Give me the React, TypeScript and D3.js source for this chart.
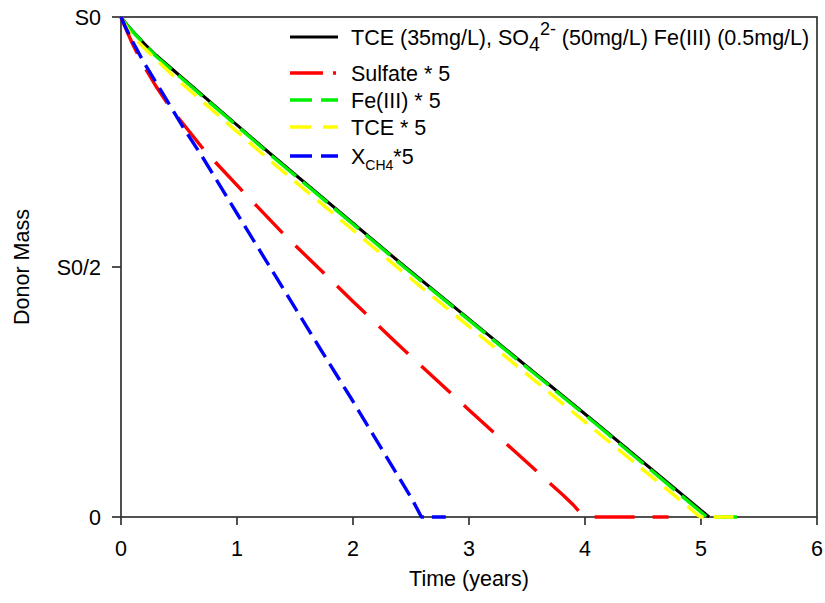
import React from "react";
import * as d3 from "d3";

const W = 825;
const H = 603;

const xTicks = [0, 1, 2, 3, 4, 5, 6];
const yTickValues = [0, 0.5, 1];
const yTickLabels = ["0", "S0/2", "S0"];

const blackT = [0, 0.05, 0.1, 0.2, 0.3, 0.51, 1.3, 2.43, 4.1, 5.07];
const blackV = [1, 0.985, 0.972, 0.947, 0.924, 0.882, 0.724, 0.504, 0.187, 0];

const greenT = [0, 0.05, 0.1, 0.2, 0.3, 0.51, 1.3, 2.43, 4.1, 5.05, 5.31];
const greenV = [1, 0.984, 0.971, 0.946, 0.922, 0.88, 0.722, 0.502, 0.185, 0, 0];

const yellowT = [0, 0.08, 0.3, 0.5, 1.3, 2.43, 4.1, 4.85, 4.92, 4.97, 5.0, 5.28];
const yellowV = [1, 0.966, 0.915, 0.872, 0.71, 0.49, 0.171, 0.028, 0.014, 0.004, 0, 0];

const redT = [0, 0.05, 0.1, 0.18, 0.3, 0.42, 0.72, 1.05, 1.41, 2.0, 2.38, 3.0, 3.81, 3.9, 3.96, 4.02, 4.72];
const redV = [1, 0.972, 0.946, 0.909, 0.862, 0.82, 0.733, 0.651, 0.564, 0.431, 0.347, 0.214, 0.044, 0.024, 0.008, 0, 0];

const blueT = [0, 0.034, 0.1, 0.19, 0.54, 0.71, 1.0, 1.716, 1.974, 2.506, 2.59, 2.8];
const blueV = [1, 0.982, 0.951, 0.912, 0.778, 0.717, 0.607, 0.337, 0.241, 0.037, 0, 0];

const FONT = "'Liberation Sans', Arial, sans-serif";

export default function App() {
  const left = 121, right = 817, top = 17, bottom = 517;
  const x = d3.scaleLinear().domain([0, 6]).range([left, right]);
  const y = d3.scaleLinear().domain([0, 1]).range([bottom, top]);

  const line = d3
    .line<[number, number]>()
    .x((d) => x(d[0]))
    .y((d) => y(d[1]))
    .curve(d3.curveLinear);

  const mk = (t: number[], v: number[]) => line(t.map((tt, i) => [tt, v[i]] as [number, number])) || "";

  const series = [
    { key: "black", d: mk(blackT, blackV), color: "#000000", dash: "none", w: 3, legDash: "none" },
    { key: "green", d: mk(greenT, greenV), color: "#00ee00", dash: "32,9", w: 3.4, legDash: "22,9" },
    { key: "yellow", d: mk(yellowT, yellowV), color: "#ffff00", dash: "20,10", w: 3.4, legDash: "21,12" },
    { key: "red", d: mk(redT, redV), color: "#ff0000", dash: "40,18", w: 3.4, legDash: "33,10,3,10" },
    { key: "blue", d: mk(blueT, blueV), color: "#0000ff", dash: "19,8", w: 3.4, legDash: "22,9" },
  ];

  const legendRows = [
    { key: "black", y: 37 },
    { key: "red", y: 73 },
    { key: "green", y: 100 },
    { key: "yellow", y: 127 },
    { key: "blue", y: 156 },
  ];

  const axisColor = "#333333";
  const fs = 21.5;

  return (
    <svg
      width={W}
      height={H}
      style={{ position: "absolute", left: 0, top: 0, background: "#fff" }}
      fontFamily={FONT}
    >
      <rect x={0} y={0} width={W} height={H} fill="#ffffff" />
      <rect x={left} y={top} width={right - left} height={bottom - top} fill="none" stroke={axisColor} strokeWidth={1.7} />
      {xTicks.map((t) => (
        <g key={"xt" + t}>
          <line x1={x(t)} x2={x(t)} y1={bottom} y2={bottom + 8} stroke={axisColor} strokeWidth={1.7} />
          <text x={x(t)} y={556} textAnchor="middle" fontSize={fs} fill="#000">
            {t}
          </text>
        </g>
      ))}
      {yTickValues.map((v, i) => (
        <g key={"yt" + v}>
          <line x1={left - 9} x2={left} y1={y(v)} y2={y(v)} stroke={axisColor} strokeWidth={1.7} />
          <text x={101} y={y(v) + 7.5} textAnchor="end" fontSize={fs} fill="#000">
            {yTickLabels[i]}
          </text>
        </g>
      ))}
      <text x={(left + right) / 2} y={586} textAnchor="middle" fontSize={fs} fill="#000">
        Time (years)
      </text>
      <text
        transform={`translate(29,${(top + bottom) / 2}) rotate(-90)`}
        textAnchor="middle"
        fontSize={fs}
        fill="#000"
      >
        Donor Mass
      </text>

      {series.map((s) => (
        <path
          key={s.key}
          d={s.d}
          fill="none"
          stroke={s.color}
          strokeWidth={s.w}
          strokeDasharray={s.dash}
          strokeLinecap="butt"
          strokeLinejoin="round"
        />
      ))}

      {legendRows.map((r) => {
        const s = series.find((q) => q.key === r.key)!;
        return (
          <line
            key={"lg" + r.key}
            x1={290}
            x2={338}
            y1={r.y}
            y2={r.y}
            stroke={s.color}
            strokeWidth={s.w}
            strokeDasharray={s.legDash}
          />
        );
      })}
      <text x={351} y={37 + 7.5} fontSize={fs} fill="#000">
        <tspan>TCE (35mg/L), SO</tspan>
        <tspan dy={6} fontSize={19.5}>4</tspan>
        <tspan dy={-16} fontSize={18}>2-</tspan>
        <tspan dy={10}> (50mg/L) Fe(III) (0.5mg/L)</tspan>
      </text>
      <text x={351} y={73 + 7.5} fontSize={fs} fill="#000">Sulfate * 5</text>
      <text x={351} y={100 + 7.5} fontSize={fs} fill="#000">Fe(III) * 5</text>
      <text x={351} y={127 + 7.5} fontSize={fs} fill="#000">TCE * 5</text>
      <text x={351} y={156 + 7.5} fontSize={fs} fill="#000">
        <tspan>X</tspan>
        <tspan dy={6} fontSize={14}>CH4</tspan>
        <tspan dy={-6}>*5</tspan>
      </text>
    </svg>
  );
}
